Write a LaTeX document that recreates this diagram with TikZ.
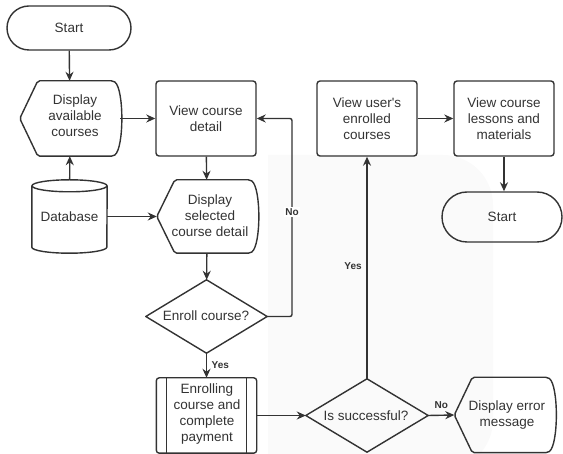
\documentclass[tikz,border=0pt]{standalone}
\usepackage{fontspec}
\setmainfont{Liberation Sans}
\usetikzlibrary{arrows.meta}

\definecolor{ink}{HTML}{333333}
\definecolor{tint}{HTML}{FAFAFA}

\tikzset{
  x=1pt, y=-1pt,
  every node/.style={font=\fontsize{13.5}{16}\selectfont, text=ink, align=center, inner sep=0pt},
  outline/.style={draw=ink, line width=1.4pt},
  flow/.style={draw=ink, line width=1.4pt, -{Stealth[length=9pt, width=8pt]}},
  procbox/.style={outline, rounded corners=3pt, minimum width=100pt, minimum height=75pt},
  termbox/.style={outline, minimum width=124pt, minimum height=44pt, rounded corners=22pt},
  hidden/.style={minimum width=100pt, minimum height=75pt},
  decision/.style={minimum width=121pt, minimum height=73pt},
  tag/.style={font=\fontsize{10}{12}\selectfont\bfseries, fill=white, inner sep=1.5pt},
}

% Display shape: pointed left side, bulging right side
\newcommand\displayshape[1]{%
  \draw[outline, rounded corners=2pt]
    ([xshift=18pt]#1.north west) -- ([xshift=-7pt]#1.north east)
    .. controls ([xshift=4pt,yshift=-8pt]#1.north east) and ([xshift=4pt,yshift=8pt]#1.south east) ..
    ([xshift=-7pt]#1.south east) -- ([xshift=18pt]#1.south west) -- (#1.west) -- cycle;}

\newcommand\diamondshape[1]{%
  \draw[outline, line join=round] (#1.north) -- (#1.east) -- (#1.south) -- (#1.west) -- cycle;}

\begin{document}
\begin{tikzpicture}
\useasboundingbox (0,0) rectangle (563,454);

% soft background panel
\fill[tint] (268,470) -- (268,155) -- (440,155) [rounded corners=50pt] -- (493,155) -- (493,470) [sharp corners] -- cycle;

% --- left column ---
\node[termbox] (start) at (69,28) {Start};

\node[hidden] (avail) at (70,118.5) {};
\displayshape{avail}
\node (availtxt) at (75,116) {Display\\available\\courses};

\node[procbox] (detail) at (206,118.5) {View course\\detail};

% database cylinder
\node[minimum width=75pt, minimum height=73pt] (db) at (69.5,216.5) {Database};
\draw[outline]
  ([yshift=-6pt]db.north west) -- ([yshift=6pt]db.south west)
  arc[start angle=180, end angle=360, x radius=37.5pt, y radius=6pt]
  -- ([yshift=-6pt]db.north east);
\draw[outline] ([yshift=-6pt]db.north) ellipse[x radius=37.5pt, y radius=6pt];

\node[hidden, minimum height=73pt] (selected) at (207,216.5) {};
\displayshape{selected}
\node (selectedtxt) at (210,216) {Display\\selected\\course detail};

\node[decision] (enroll) at (206.5,316.5) {};
\diamondshape{enroll}
\node (enrolltxt) at (206,316) {Enroll course?};

\node[hidden] (pay) at (206.5,415.5) {};
\draw[outline, rounded corners=3pt] (pay.north west) rectangle (pay.south east);
\draw[outline] ([xshift=10pt]pay.north west) -- ([xshift=10pt]pay.south west);
\draw[outline] ([xshift=-10pt]pay.north east) -- ([xshift=-10pt]pay.south east);
\node (paytxt) at (207,414) {Enrolling\\course and\\complete\\payment};

% --- right part ---
\node[decision, minimum width=122pt] (success) at (367,415.5) {};
\diamondshape{success}
\node (successtxt) at (366,416) {Is successful?};

\node[procbox] (mine) at (367,118.5) {View user\textquotesingle s\\enrolled\\courses};
\node[procbox] (lessons) at (504,118.5) {View course\\lessons and\\materials};
\node[termbox, minimum width=120pt, minimum height=50pt, rounded corners=25pt] (finish) at (502,217) {Start};

\node[hidden] (error) at (504.5,415) {};
\displayshape{error}
\node (errortxt) at (507,415) {Display error\\message};

% --- connectors ---
\draw[flow] (start) -- (avail);
\draw[flow] (avail) -- (detail);
\draw[flow] (db) -- (avail);
\draw[flow] (detail) -- (selected);
\draw[flow] (db) -- (selected);
\draw[flow] (selected) -- (enroll);
\draw[flow] (enroll.south) -- node[tag, anchor=west, xshift=3pt, fill=none] (yes1) {Yes} (pay.north);
\draw[flow, rounded corners=2pt] (enroll.east) -| (292,118.5) -- (detail.east);
\node[tag] (no1) at (292,212) {No};
\draw[flow] (pay.east) -- (success.west);
\draw[flow] (success.north) -- (mine.south);
\node[tag, fill=tint] (yes2) at (353,266) {Yes};
\draw[flow] (success.east) -- node[tag, above, yshift=4pt, fill=none] (no2) {No} (error.west);
\draw[flow] (mine) -- (lessons);
\draw[flow] (lessons.south) -- (lessons.south |- finish.north);
\end{tikzpicture}
\end{document}
